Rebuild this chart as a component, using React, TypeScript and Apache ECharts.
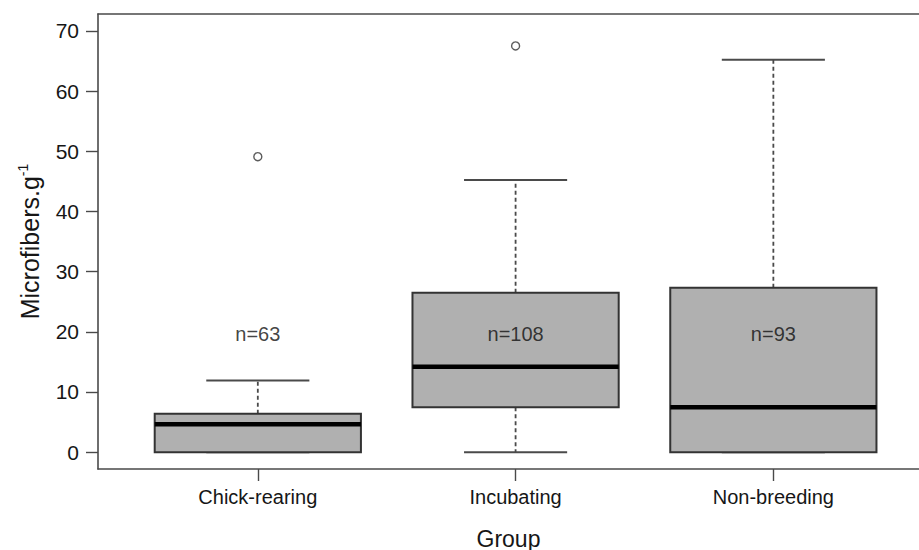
import React, { useEffect, useRef } from "react";
import * as echarts from "echarts";

const categories = ["Chick-rearing", "Incubating", "Non-breeding"];
// [lowerWhisker, Q1, median, Q3, upperWhisker]
const lowerWhiskers = [0, 0, 0];
const q1Values = [0, 7.45, 0];
const medians = [4.65, 14.2, 7.45];
const q3Values = [6.4, 26.5, 27.3];
const upperWhiskers = [11.9, 45.2, 65.2];
const outliers = [
  [1, 49.1],
  [2, 67.5],
];
const nLabels = ["n=63", "n=108", "n=93"];
const nLabelY = 19.7;
const yTicks = [0, 10, 20, 30, 40, 50, 60, 70];

const FONT = "'Liberation Sans', Arial, Helvetica, sans-serif";
const TEXT = "#161616";
const LINE = "#4a4a4a";

export default function App() {
  const ref = useRef<HTMLDivElement>(null);
  useEffect(() => {
    if (!ref.current) return;
    const chart = echarts.init(ref.current, null, { renderer: "svg" });
    const boxData = categories.map((_, i) => [
      i + 1,
      lowerWhiskers[i],
      q1Values[i],
      medians[i],
      q3Values[i],
      upperWhiskers[i],
    ]);
    const renderItem = (params: any, api: any) => {
      const x = api.value(0);
      const lo = api.value(1);
      const q1 = api.value(2);
      const med = api.value(3);
      const q3 = api.value(4);
      const hi = api.value(5);
      const half = 0.4;
      const cap = 0.2;
      const tl = api.coord([x - half, q3]);
      const br = api.coord([x + half, q1]);
      const mL = api.coord([x - half, med]);
      const mR = api.coord([x + half, med]);
      const cx = api.coord([x, 0])[0];
      const yHi = api.coord([x, hi])[1];
      const yLo = api.coord([x, lo])[1];
      const capL = api.coord([x - cap, 0])[0];
      const capR = api.coord([x + cap, 0])[0];
      const children: any[] = [];
      children.push({
        type: "line",
        shape: { x1: cx, y1: tl[1], x2: cx, y2: yHi },
        style: { stroke: LINE, lineWidth: 1.8, lineDash: [4, 3] },
      });
      children.push({
        type: "line",
        shape: { x1: capL, y1: yHi, x2: capR, y2: yHi },
        style: { stroke: LINE, lineWidth: 2 },
      });
      if (lo < q1) {
        children.push({
          type: "line",
          shape: { x1: cx, y1: br[1], x2: cx, y2: yLo },
          style: { stroke: LINE, lineWidth: 1.8, lineDash: [4, 3] },
        });
      }
      children.push({
        type: "line",
        shape: { x1: capL, y1: yLo, x2: capR, y2: yLo },
        style: { stroke: LINE, lineWidth: 2 },
      });
      children.push({
        type: "rect",
        shape: { x: tl[0], y: tl[1], width: br[0] - tl[0], height: br[1] - tl[1] },
        style: { fill: "#b0b0b0", stroke: "#333333", lineWidth: 2 },
      });
      children.push({
        type: "line",
        shape: { x1: mL[0], y1: mL[1], x2: mR[0], y2: mR[1] },
        style: { stroke: "#000000", lineWidth: 4.5 },
      });
      return { type: "group", children };
    };

    chart.setOption({
      animation: false,
      backgroundColor: "#ffffff",
      grid: {
        left: 98,
        top: 14,
        right: 0,
        bottom: 81,
        containLabel: false,
        outerBoundsMode: "none",
      },
      xAxis: [
        {
          type: "value",
          min: 0.38,
          max: 3.565,
          position: "bottom",
          splitLine: { show: false },
          axisLine: { show: true, onZero: false, lineStyle: { color: LINE, width: 1.6 } },
          axisTick: {
            show: true,
            customValues: [1, 2, 3],
            length: 12,
            lineStyle: { color: LINE, width: 1.4 },
          },
          axisLabel: {
            show: true,
            customValues: [1, 2, 3],
            formatter: (v: number) => categories[Math.round(v) - 1] ?? "",
            margin: 18,
            color: TEXT,
            fontSize: 20,
            fontFamily: FONT,
          },
          name: "Group",
          nameLocation: "middle",
          nameGap: 58,
          nameTextStyle: { color: TEXT, fontSize: 23, fontFamily: FONT },
        },
        {
          type: "value",
          min: 0.38,
          max: 3.565,
          position: "top",
          splitLine: { show: false },
          axisLine: { show: true, onZero: false, lineStyle: { color: LINE, width: 1.6 } },
          axisTick: { show: false },
          axisLabel: { show: false },
        },
      ],
      yAxis: {
        type: "value",
        min: -2.8,
        max: 72.8,
        splitLine: { show: false },
        axisLine: { show: true, onZero: false, lineStyle: { color: LINE, width: 1.6 } },
        axisTick: {
          show: true,
          customValues: yTicks,
          length: 12,
          lineStyle: { color: LINE, width: 1.4 },
        },
        axisLabel: {
          show: true,
          customValues: yTicks,
          margin: 19,
          color: TEXT,
          fontSize: 21,
          fontFamily: FONT,
        },
        name: "Microfibers.g{sup|-1}",
        nameLocation: "middle",
        nameRotate: 90,
        nameGap: 54,
        nameTextStyle: {
          color: TEXT,
          fontSize: 25,
          fontFamily: FONT,
          rich: {
            sup: { fontSize: 14, fontFamily: FONT, color: TEXT, verticalAlign: "top", padding: [0, 0, 14, 0] },
          },
        },
      },
      series: [
        {
          type: "custom",
          xAxisIndex: 0,
          yAxisIndex: 0,
          renderItem,
          data: boxData,
          encode: { x: 0, y: [1, 2, 3, 4, 5] },
          z: 2,
        },
        {
          type: "scatter",
          xAxisIndex: 0,
          yAxisIndex: 0,
          data: outliers,
          symbol: "circle",
          symbolSize: 8,
          itemStyle: { color: "#ffffff", borderColor: "#333333", borderWidth: 1.4 },
          z: 3,
        },
        {
          type: "scatter",
          xAxisIndex: 0,
          yAxisIndex: 0,
          data: nLabels.map((_, i) => [i + 1, nLabelY]),
          symbolSize: 0,
          label: {
            show: true,
            position: "inside",
            formatter: (p: any) => nLabels[p.dataIndex],
            color: "#111111",
            fontSize: 20,
            fontFamily: FONT,
          },
          z: 4,
        },
      ],
    });
    return () => chart.dispose();
  }, []);
  return (
    <div
      ref={ref}
      style={{ position: "absolute", left: 0, top: 0, width: 919, height: 550 }}
    />
  );
}
